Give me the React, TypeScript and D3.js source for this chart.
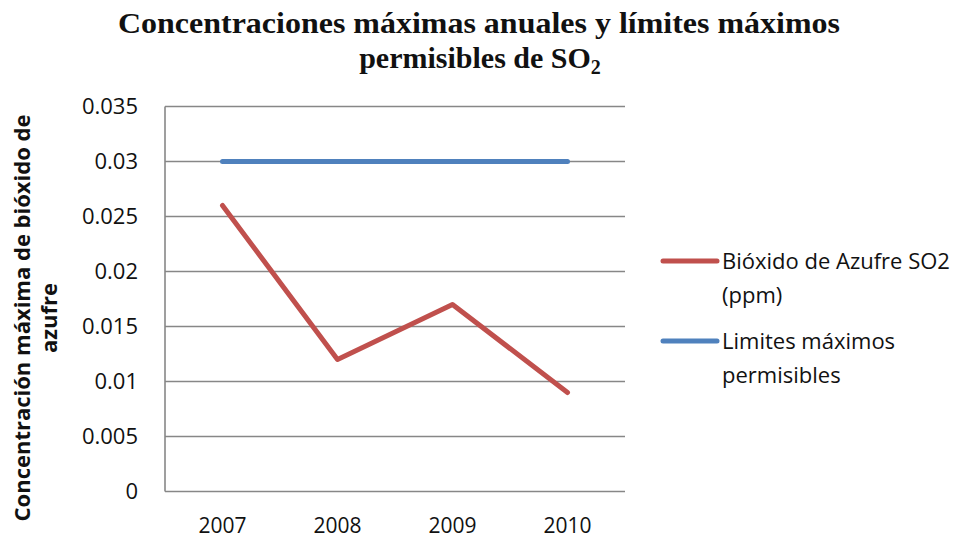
import React from "react";
import * as d3 from "d3";

const years = ["2007", "2008", "2009", "2010"];
const so2Values = [0.026, 0.012, 0.017, 0.009];
const limitValues = [0.03, 0.03, 0.03, 0.03];
const yTicks = [0, 0.005, 0.01, 0.015, 0.02, 0.025, 0.03, 0.035];
const seriesNames = ["Bióxido de Azufre SO2", "(ppm)"];
const limitNames = ["Limites máximos", "permisibles"];

const W = 968, H = 540;
const plot = { left: 165, right: 625, top: 106.5, bottom: 491.5 };
const tickFont = "'Open Sans', sans-serif";

export default function App() {
  const x = d3.scaleBand<string>().domain(years).range([plot.left, plot.right]);
  const y = d3.scaleLinear().domain([0, 0.035]).range([plot.bottom, plot.top]);
  const cx = (d: string) => (x(d) as number) + x.bandwidth() / 2;
  const line = d3.line<number>().x((_, i) => cx(years[i])).y((v) => y(v));

  return (
    <svg width={W} height={H} style={{ position: "absolute", left: 0, top: 0, background: "#fff" }}>
      <rect width={W} height={H} fill="#fff" />
      <text x={479} y={33} textAnchor="middle" fontFamily="'Liberation Serif', serif" fontWeight="bold" fontSize={30} fill="#111"
        textLength={722} lengthAdjust="spacingAndGlyphs">
        Concentraciones máximas anuales y límites máximos
      </text>
      <text x={480} y={68} textAnchor="middle" fontFamily="'Liberation Serif', serif" fontWeight="bold" fontSize={30} fill="#111">
        permisibles de SO<tspan fontSize={20} dy={6}>2</tspan>
      </text>

      {yTicks.map((t) => (
        <g key={t}>
          <line x1={plot.left} x2={plot.right} y1={y(t)} y2={y(t)} stroke="#878787" strokeWidth={1.6} />
          <text x={138} y={y(t)} dy="0.36em" textAnchor="end" fontFamily={tickFont} fontSize={22} fill="#111">
            {String(t)}
          </text>
        </g>
      ))}
      <line x1={plot.left} x2={plot.left} y1={plot.top} y2={plot.bottom} stroke="#878787" strokeWidth={1.6} />

      {years.map((yr) => (
        <text key={yr} x={cx(yr)} y={533} textAnchor="middle" fontFamily={tickFont} fontSize={21} fill="#111">
          {yr}
        </text>
      ))}

      <path d={line(limitValues) as string} fill="none" stroke="#4F81BD" strokeWidth={5} strokeLinecap="round" strokeLinejoin="round" />
      <path d={line(so2Values) as string} fill="none" stroke="#C0504D" strokeWidth={5} strokeLinecap="round" strokeLinejoin="round" />

      <g transform="translate(30,318) rotate(-90)">
        <text x={0} y={0} textAnchor="middle" fontFamily={tickFont} fontWeight="bold" fontSize={22} fill="#111">
          Concentración máxima de bióxido de
        </text>
        <text x={0} y={27} textAnchor="middle" fontFamily={tickFont} fontWeight="bold" fontSize={22} fill="#111">
          azufre
        </text>
      </g>

      <line x1={663} x2={717} y1={261} y2={261} stroke="#C0504D" strokeWidth={5} strokeLinecap="round" />
      {seriesNames.map((s, i) => (
        <text key={s} x={722} y={261 + i * 34} dy="0.36em" fontFamily={tickFont} fontSize={22} fill="#111">{s}</text>
      ))}
      <line x1={663} x2={717} y1={341} y2={341} stroke="#4F81BD" strokeWidth={5} strokeLinecap="round" />
      {limitNames.map((s, i) => (
        <text key={s} x={722} y={341 + i * 34} dy="0.36em" fontFamily={tickFont} fontSize={22} fill="#111">{s}</text>
      ))}
    </svg>
  );
}
